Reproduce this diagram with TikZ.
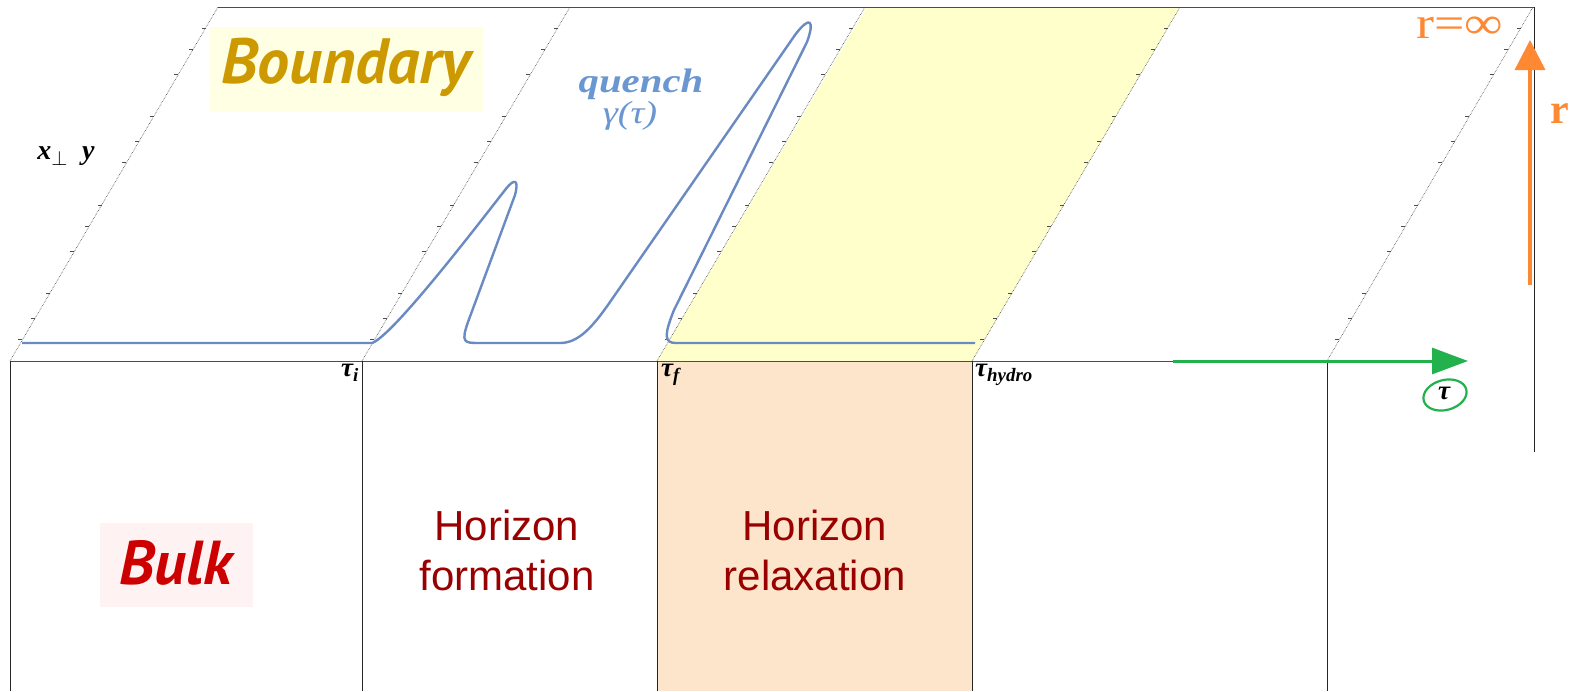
\documentclass[tikz,border=0pt]{standalone}
\usepackage{fontspec}
\setmainfont{Liberation Serif}
\newfontfamily\arialf{Liberation Sans}
\newfontfamily\handf{PT Sans}
\newfontfamily\tmsw[FakeStretch=1.2]{Liberation Serif}
\usetikzlibrary{arrows.meta,calc}
\definecolor{hred}{HTML}{990000}
\definecolor{bulkred}{HTML}{CC0000}
\definecolor{bulkbg}{HTML}{FFF2F2}
\definecolor{bgold}{HTML}{CC9900}
\definecolor{bdbg}{HTML}{FFFFE4}
\definecolor{ylw}{HTML}{FFFFCC}
\definecolor{peach}{HTML}{FDE5CB}
\definecolor{qblue}{HTML}{6A96D2}
\definecolor{cblue}{HTML}{6A8AC2}
\definecolor{orng}{HTML}{FF8833}
\definecolor{grn}{HTML}{22B14C}
\tikzset{
  edgeline/.style={draw=black!70, line width=0.8},
  slant/.style={draw=black!75, line width=0.6, densely dotted},
  tick/.style={draw=black!70, line width=0.6},
  vline/.style={draw=black!85, line width=0.9},
  horiz/.style={font=\arialf\fontsize{42}{50}\selectfont, text=hred, align=center},
  taulab/.style={font=\fontsize{27}{28}\selectfont\bfseries\itshape, inner sep=0pt},
}
\begin{document}
\begin{tikzpicture}[x=1pt,y=-1pt]
\useasboundingbox (0,0) rectangle (1570,691);
\fill[white] (0,0) rectangle (1570,691);
% shaded regions
\fill[ylw] (657,361) -- (972,361) -- (1180,7) -- (867,7) -- cycle;
\fill[peach] (657,361) rectangle (972,691);
\fill[bdbg] (210,27) rectangle (483,112);
\fill[bulkbg] (100,523) rectangle (253,607);
% coordinates
\foreach \n/\xb in {a/10,b/362,c/657,d/972,e/1327}{
  \coordinate (\n0) at (\xb,361);
  \coordinate (\n1) at (\xb+208,7);
}
\coordinate (e1) at (1533,7);
\coordinate (rtop) at (1534,7);
\coordinate (rbot) at (1534,452);
\coordinate (gstart) at (1173,361);
\coordinate (gend) at (1468,361);
\coordinate (ostart) at (1530,285);
\coordinate (oend) at (1530,40);
% frame lines
\draw[edgeline] (a1) -- (rtop);
\draw[edgeline] (a0) -- (gstart);
\foreach \n in {a,b,c,d,e}{
  \draw[slant] (\n0) -- (\n1);
  \foreach \f in {0.06,0.12,0.19,0.31,0.38,0.44,0.56,0.62,0.69,0.81,0.88,0.94}{
    \draw[tick] ($(\n0)!\f!(\n1)$) -- ++(-4,0);
  }
}
\draw[vline] (rtop) -- (rbot);
\foreach \xb in {10,362,657,972,1327}{
  \draw[vline] (\xb,361) -- (\xb,691);
}
% quench curve
\draw[cblue, line width=2.4, line join=round]
  (22,343) -- (372,343)
  .. controls (392,336) and (470,235) .. (505,190)
  .. controls (515,177) and (519,180) .. (515,195)
  -- (468,322)
  .. controls (461,342) and (464,343) .. (478,343)
  -- (560,343)
  .. controls (578,343) and (592,328) .. (610,302)
  -- (795,35)
  .. controls (810,15) and (815,20) .. (807,42)
  -- (674,310)
  .. controls (664,335) and (664,343) .. (676,343)
  -- (975,343);
% axes arrows
\draw[grn, line width=3, -{Triangle[length=36pt,width=26pt]}] (gstart) -- (gend);
\draw[orng, line width=3.5, -{Triangle[length=30pt,width=30pt]}] (ostart) -- (oend);
% labels
\node[font=\handf\bfseries\itshape\fontsize{64}{66}\selectfont, text=bgold] (boundary) at (346,67) {Boundary};
\node[font=\handf\bfseries\itshape\fontsize{62}{64}\selectfont, text=bulkred] (bulk) at (176,563) {Bulk};
\node[horiz] (hform) at (507,550) {Horizon\\formation};
\node[horiz] (hrelax) at (815,550) {Horizon\\relaxation};
\node[font=\tmsw\fontsize{34}{36}\selectfont\bfseries\itshape, text=qblue] (quench) at (641,84) {quench};
\node[font=\tmsw\fontsize{32}{36}\selectfont\itshape, text=qblue] (gamma) at (630,116) {γ(τ)};
\node[font=\fontsize{28}{30}\selectfont\bfseries\itshape] (xy) at (66,156) {x\textsubscript{$\perp$}\hspace{14pt}y};
\node[taulab, anchor=north east] (ti) at (359,364) {τ\textsubscript{i}};
\node[taulab, anchor=north west] (tf) at (661,364) {τ\textsubscript{f}};
\node[taulab, anchor=north west] (th) at (975,364) {τ\textsubscript{hydro}};
\node[font=\tmsw\fontsize{45}{46}\selectfont, text=orng] (rinf) at (1460,28) {r=∞};
\node[font=\fontsize{42}{44}\selectfont\bfseries, text=orng, anchor=west, inner sep=0pt] (rlab) at (1550,114) {r};
\node[font=\fontsize{27}{28}\selectfont\bfseries\itshape, inner sep=0pt] (tau) at (1444,393) {τ};
\draw[grn, line width=2.2, rotate around={15:(1445,395)}] (1445,395) ellipse (22 and 15);
\end{tikzpicture}
\end{document}
